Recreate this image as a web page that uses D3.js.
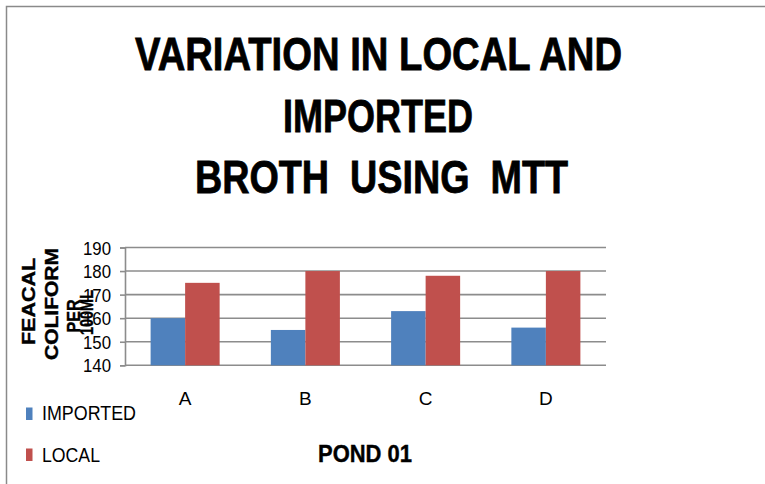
<!DOCTYPE html>
<html>
<head>
<meta charset="utf-8">
<script src="https://cdn.jsdelivr.net/npm/d3@7/dist/d3.min.js"></script>
<style>
  html, body { margin: 0; padding: 0; background: #fff; }
  svg { display: block; }
  text { white-space: pre; }
</style>
</head>
<body>
<svg id="chart" width="765" height="484"></svg>
<script>
// ---- data ----
const categories = ["A", "B", "C", "D"];
const seriesNames = ["IMPORTED", "LOCAL"];
const importedValues = [160, 155, 163, 156];
const localValues = [175, 180, 178, 180];
const yTicks = [140, 150, 160, 170, 180, 190];
const titleLines = ["VARIATION IN LOCAL AND", "IMPORTED", "BROTH  USING  MTT"];
const yTitleLines = ["FEACAL", "COLIFORM", "PER", "100ML"];
const xTitle = "POND 01";

const colors = { IMPORTED: "#4F81BD", LOCAL: "#C0504D" };
const font = "'Liberation Sans', Arial, Helvetica, sans-serif";

const svg = d3.select("#chart");

// frame
svg.append("path")
  .attr("d", "M6.5,484 L6.5,6.5 L765,6.5")
  .attr("fill", "none").attr("stroke", "#8a8a8a").attr("stroke-width", 1.5);

// title
const titleGeom = [
  { x: 135, y: 70, w: 487 },
  { x: 283, y: 131.5, w: 190 },
  { x: 195, y: 193.3, w: 373 }
];
titleLines.forEach((t, i) => {
  svg.append("text")
    .attr("xml:space", "preserve")
    .attr("x", titleGeom[i].x).attr("y", titleGeom[i].y)
    .attr("textLength", titleGeom[i].w).attr("lengthAdjust", "spacingAndGlyphs")
    .style("font-family", font).style("font-weight", "bold").style("font-size", "46px")
    .attr("stroke", "#000").attr("stroke-width", 0.8)
    .attr("fill", "#000").text(t);
});

// scales
const plot = { left: 125, right: 606, top: 247.5, bottom: 365.3 };
const y = d3.scaleLinear().domain([140, 190]).range([plot.bottom, plot.top]);
const x = d3.scaleBand().domain(categories).range([plot.left, plot.right])
  .paddingInner(0.426).paddingOuter(0.213);
const xs = d3.scaleBand().domain(seriesNames).range([0, x.bandwidth()]);

// gridlines
svg.append("g").selectAll("line").data(yTicks).join("line")
  .attr("x1", plot.left).attr("x2", plot.right)
  .attr("y1", d => y(d)).attr("y2", d => y(d))
  .attr("stroke", "#8c8c8c").attr("stroke-width", 1.6);

// bars
const rows = categories.map((c, i) => ({ cat: c, IMPORTED: importedValues[i], LOCAL: localValues[i] }));
const g = svg.append("g");
rows.forEach(r => {
  seriesNames.forEach(s => {
    g.append("rect")
      .attr("x", x(r.cat) + xs(s))
      .attr("width", xs.bandwidth())
      .attr("y", y(r[s]))
      .attr("height", y(140) - y(r[s]))
      .attr("fill", colors[s]);
  });
});

// y axis
const yAxis = svg.append("g").attr("transform", `translate(${plot.left},0)`)
  .call(d3.axisLeft(y).tickValues(yTicks).tickSize(5).tickPadding(9).tickFormat(d3.format("d")));
yAxis.select(".domain").attr("stroke", "#8c8c8c").attr("stroke-width", 1.6);
yAxis.selectAll(".tick line").attr("stroke", "#8c8c8c").attr("stroke-width", 1.6);
yAxis.selectAll(".tick text")
  .style("font-family", font).style("font-size", "18.5px").attr("fill", "#000")
  .attr("dy", "0.36em")
  .attr("textLength", 28).attr("lengthAdjust", "spacingAndGlyphs");

// x axis labels
const xAxis = svg.append("g").attr("transform", `translate(0,${plot.bottom})`)
  .call(d3.axisBottom(x).tickSize(0).tickPadding(40));
xAxis.select(".domain").remove();
xAxis.selectAll(".tick text")
  .style("font-family", font).style("font-size", "19px").attr("fill", "#000")
  .attr("dy", "0");

// y axis title (rotated lines)
const yTitleGeom = [
  { bx: 35, cy: 301.5, w: 87 },
  { bx: 58, cy: 304, w: 112 },
  { bx: 80, cy: 316, w: 33 },
  { bx: 93, cy: 312.5, w: 45 }
];
yTitleLines.forEach((t, i) => {
  const gm = yTitleGeom[i];
  svg.append("text")
    .attr("transform", `translate(${gm.bx},${gm.cy}) rotate(-90)`)
    .attr("text-anchor", "middle")
    .attr("textLength", gm.w).attr("lengthAdjust", "spacingAndGlyphs")
    .style("font-family", font).style("font-weight", "bold").style("font-size", "18px")
    .attr("stroke", "#000").attr("stroke-width", 0.4)
    .attr("fill", "#000").text(t);
});

// x axis title
svg.append("text")
  .attr("x", 318).attr("y", 462)
  .attr("textLength", 94).attr("lengthAdjust", "spacingAndGlyphs")
  .style("font-family", font).style("font-weight", "bold").style("font-size", "24px")
  .attr("stroke", "#000").attr("stroke-width", 0.4)
  .attr("fill", "#000").text(xTitle);

// legend
const legendGeom = [
  { ry: 407.5, ty: 420, w: 94 },
  { ry: 448.5, ty: 462, w: 58 }
];
seriesNames.forEach((s, i) => {
  const lg = legendGeom[i];
  svg.append("rect").attr("x", 26).attr("y", lg.ry).attr("width", 6.5).attr("height", 12.5)
    .attr("fill", colors[s]);
  svg.append("text").attr("x", 42).attr("y", lg.ty)
    .attr("textLength", lg.w).attr("lengthAdjust", "spacingAndGlyphs")
    .style("font-family", font).style("font-size", "20px").attr("fill", "#000").text(s);
});
</script>
</body>
</html>
